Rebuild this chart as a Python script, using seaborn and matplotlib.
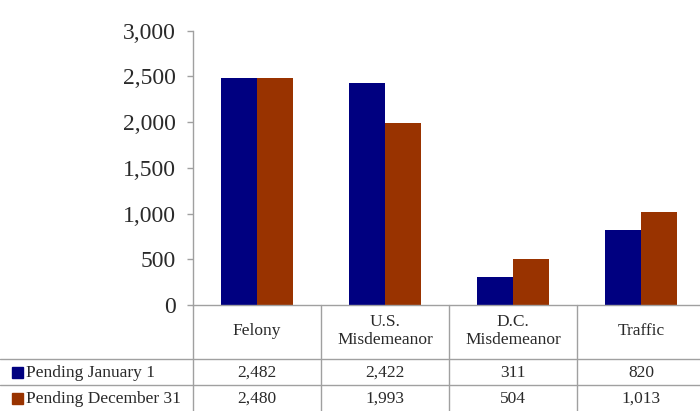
import matplotlib
matplotlib.use("Agg")
import matplotlib.pyplot as plt
import matplotlib.transforms as mtransforms
import seaborn as sns
import pandas as pd

categories = ["Felony", "U.S.\nMisdemeanor", "D.C.\nMisdemeanor", "Traffic"]
series_names = ["Pending January 1", "Pending December 31"]
pending_jan1 = [2482, 2422, 311, 820]
pending_dec31 = [2480, 1993, 504, 1013]
y_ticks = [0, 500, 1000, 1500, 2000, 2500, 3000]

colors = ["#000080", "#993300"]
grid_color = "#a0a0a0"
text_color = "#2a2a2a"

sns.set_theme(style="white")
plt.rcParams["font.family"] = ["Liberation Serif", "DejaVu Serif"]

df = pd.DataFrame({
    "category": categories * 2,
    "series": [series_names[0]] * 4 + [series_names[1]] * 4,
    "value": pending_jan1 + pending_dec31,
})

W, H = 700, 411
fig = plt.figure(figsize=(W / 100, H / 100), dpi=100)
x0, x1 = 193, 705
y_top, y_zero = 30.5, 305
ax = fig.add_axes([x0 / W, 1 - y_zero / H, (x1 - x0) / W, (y_zero - y_top) / H])

sns.barplot(data=df, x="category", y="value", hue="series", order=categories,
            hue_order=series_names, palette=colors, width=0.57, saturation=1,
            linewidth=0, legend=False, ax=ax)

ax.set_xlim(-0.5, 3.5)
ax.set_ylim(0, 3000)
ax.set_yticks(y_ticks)
ax.set_yticklabels([f"{v:,}" for v in y_ticks], fontsize=17, color=text_color)
ax.set_xticks([])
ax.set_xlabel("")
ax.set_ylabel("")
for side in ["top", "right"]:
    ax.spines[side].set_visible(False)
for side in ["left", "bottom"]:
    ax.spines[side].set_color(grid_color)
    ax.spines[side].set_linewidth(1)
ax.tick_params(axis="y", direction="out", length=4.5, width=1, color=grid_color, pad=8, left=True)

# Data table beneath the plot: x in data units, y in figure pixels from top
blend = mtransforms.blended_transform_factory(ax.transData, fig.transFigure)

def fy(py):
    return 1 - py / H

line_kw = dict(color=grid_color, linewidth=1, clip_on=False)
for xb in [-0.5, 0.5, 1.5, 2.5]:
    fig.add_artist(plt.Line2D([xb, xb], [fy(y_zero), fy(H)], transform=blend, **line_kw))
for py in [359, 385]:
    fig.add_artist(plt.Line2D([0, 1], [fy(py), fy(py)], transform=fig.transFigure, **line_kw))

for i, cat in enumerate(categories):
    fig.text(i, fy(331), cat, transform=blend, ha="center", va="center",
             fontsize=12.5, color=text_color, linespacing=1.15)

row_y = [373, 399]
for r, (name, vals) in enumerate(zip(series_names, [pending_jan1, pending_dec31])):
    fig.text(11 / W, fy(row_y[r]), "", transform=fig.transFigure)
    fig.add_artist(plt.Rectangle((12 / W, fy(row_y[r] + 5)), 11 / W, 11 / H,
                                 transform=fig.transFigure, color=colors[r], clip_on=False))
    fig.text(26 / W, fy(row_y[r]), name, transform=fig.transFigure, ha="left", va="center",
             fontsize=12.5, color=text_color)
    for i, v in enumerate(vals):
        fig.text(i, fy(row_y[r]), f"{v:,}", transform=blend, ha="center", va="center",
                 fontsize=12.5, color=text_color)

fig.savefig("out.png", dpi=100)
